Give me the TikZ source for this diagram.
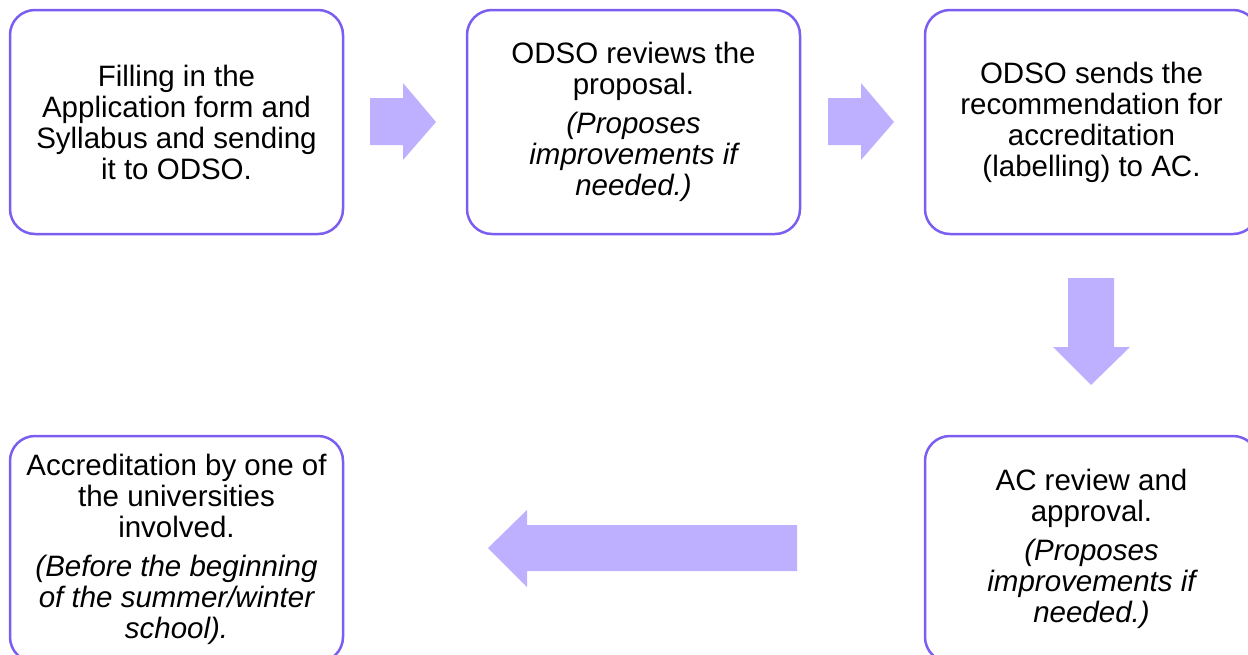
\documentclass[tikz,border=0pt]{standalone}
\usepackage{fontspec}
\setmainfont{Liberation Sans}
\definecolor{boxline}{RGB}{123,94,240}
\definecolor{arrowfill}{RGB}{190,176,255}
\tikzset{stepbox/.style={draw=boxline, line width=2.5pt, rounded corners=25pt, minimum width=333pt, minimum height=224pt, align=center, font=\fontsize{29.5}{31}\selectfont},
blockarrow/.style={fill=arrowfill}}
\begin{document}
\begin{tikzpicture}[x=1pt,y=-1pt]
\useasboundingbox (0,0) rectangle (1248,654);
\node[stepbox] (box1) at (176.5,122){Filling in the\\Application form and\\Syllabus and sending\\it to ODSO.};
\node[stepbox] (box2) at (633.5,122){ODSO reviews the\\proposal.\\[8pt]\itshape (Proposes\\\itshape improvements if\\\itshape needed.)};
\node[stepbox] (box3) at (1091.5,122){ODSO sends the\\recommendation for\\accreditation\\(labelling) to AC.};
\node[stepbox, minimum height=226pt] (box4) at (1091.5,549){AC review and\\approval.\\[8pt]\itshape (Proposes\\\itshape improvements if\\\itshape needed.)};
\node[stepbox, minimum height=226pt] (box5) at (176.5,549){Accreditation by one of\\the universities\\involved.\\[8pt]\itshape (Before the beginning\\\itshape of the summer/winter\\\itshape school).};
% block arrows
\fill[blockarrow] (370,98) -- (403,98) -- (403,83) -- (436,122) -- (403,160) -- (403,145) -- (370,145) -- cycle;
\fill[blockarrow] (828,98) -- (861,98) -- (861,83) -- (894,122) -- (861,160) -- (861,145) -- (828,145) -- cycle;
\fill[blockarrow] (1068,278) -- (1114,278) -- (1114,347) -- (1130,347) -- (1091,385) -- (1053,347) -- (1068,347) -- cycle;
\fill[blockarrow] (797,525) -- (797,571) -- (527,571) -- (527,587) -- (488,548) -- (527,510) -- (527,525) -- cycle;
\end{tikzpicture}
\end{document}
